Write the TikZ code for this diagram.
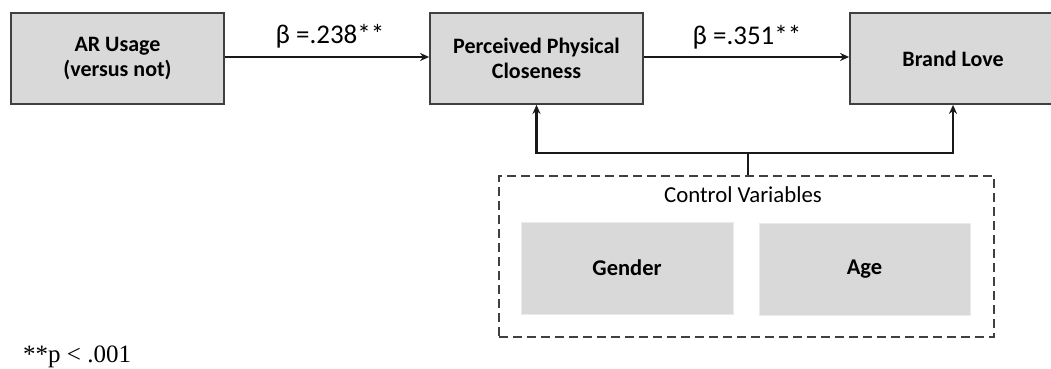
\documentclass[tikz,border=0pt]{standalone}
\usepackage{fontspec}
\setmainfont{Carlito}
\newfontfamily\notefont{Liberation Serif}
\usetikzlibrary{arrows.meta,calc}
\begin{document}
\begin{tikzpicture}[x=1pt,y=-1pt,
  mainbox/.style={draw=black!75,line width=1.8pt,fill=black!15,minimum height=91pt,inner sep=0pt,align=center,font=\fontsize{22}{25}\selectfont\bfseries},
  ctrlbox/.style={fill=black!15,draw=black!8,line width=0.6pt,minimum width=212pt,minimum height=92pt,inner sep=0pt,font=\fontsize{22.5}{25}\selectfont\bfseries},
  conn/.style={line width=2.5pt,black!90},
  arr/.style={conn,-{Stealth[length=9pt,width=8pt]}},
  beta/.style={font=\fontsize{27}{30}\selectfont,inner sep=0pt},
  cvbox/.style={draw=black!75,line width=1.8pt,dash pattern=on 9pt off 5pt}]
\useasboundingbox (0,0) rectangle (1051,369);
\clip (0,0) rectangle (1051,369);
\node[mainbox,minimum width=213pt] (ar) at (117.5,58.5) {AR Usage\\(versus not)};
\node[mainbox,minimum width=213pt] (ppc) at (536.5,58.5) {Perceived Physical\\Closeness};
\node[mainbox,minimum width=206pt] (bl) at (953,58.5) {Brand Love};
\draw[arr] (ar.east |- 0,57) -- (ppc.west |- 0,57);
\draw[arr] (ppc.east |- 0,57) -- (bl.west |- 0,57);
\node[beta] (b1) at (330,36) {β =.238**};
\node[beta] (b2) at (747,37) {β =.351**};
\node[cvbox,minimum width=495pt,minimum height=161pt,inner sep=0pt] (cv) at (746.5,256.5) {};
\node[font=\fontsize{22.8}{26}\selectfont,inner sep=0pt] (cvl) at (743,195) {Control Variables};
\node[ctrlbox] (g) at (627,268) {Gender};
\node[ctrlbox,minimum width=211pt] (a) at (864.5,269) {Age};
\coordinate (j) at (748,153);
\draw[conn] (j) -- (j |- cv.north);
\draw[arr] (j) -| (ppc.south);
\draw[arr] (j) -| (bl.south);
\node[anchor=base west,inner sep=0pt,font=\notefont\fontsize{25}{28}\selectfont] (note) at (23,362) {**p < .001};
\end{tikzpicture}
\end{document}
